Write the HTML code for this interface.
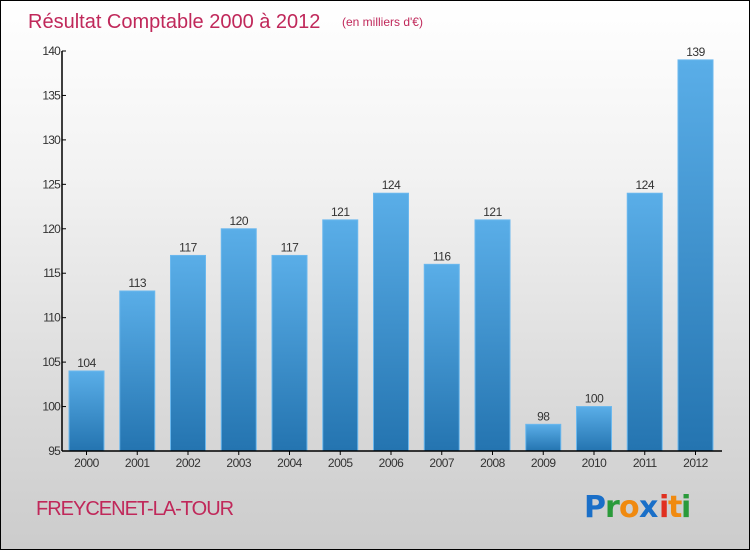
<!DOCTYPE html>
<html><head><meta charset="utf-8"><style>
body{margin:0}
#c{width:750px;height:550px;position:relative;box-sizing:border-box;border:1px solid #000;background:linear-gradient(#ffffff,#f3f3f3 30%,#d9d9d9 75%,#cccccc);font-family:"Liberation Sans",sans-serif;overflow:hidden}
</style></head><body>
<div id="c">
<svg width="750" height="550" id="svg">
<defs><linearGradient id="g" x1="0" y1="0" x2="0" y2="1"><stop offset="0" stop-color="#5aaee8"/><stop offset="1" stop-color="#2474b0"/></linearGradient></defs>
<text x="27" y="27" font-size="20" fill="#c0285a">Résultat Comptable 2000 à 2012</text>
<text x="341" y="25" font-size="12" fill="#c0285a">(en milliers d'€)</text>
<text x="35" y="514" font-size="20" fill="#c0285a" letter-spacing="-1">FREYCENET-LA-TOUR</text>
<g font-size="30" font-family="'DejaVu Sans',sans-serif" font-weight="bold">
<text x="583" y="516" fill="#1a6fc8">P</text><text x="604" y="516" fill="#2a9a3a">r</text><text x="618" y="516" fill="#f08a10">o</text><text x="638" y="516" fill="#1a6fc8">x</text><text x="658" y="516" fill="#e03020">i</text><text x="667" y="516" fill="#f08a10">t</text><text x="680" y="516" fill="#2a9a3a">i</text>
</g>
<g id="plot"></g>
</svg></div>
<script>
const categories=["2000","2001","2002","2003","2004","2005","2006","2007","2008","2009","2010","2011","2012"];
const values=[104,113,117,120,117,121,124,116,121,98,100,124,139];
const yTicks=[95,100,105,110,115,120,125,130,135,140];
const NS="http://www.w3.org/2000/svg";
const g=document.getElementById('plot');
const y0=450,y1=50,vmin=95,vmax=140,ax=61;
function y(v){return y0-(v-vmin)/(vmax-vmin)*(y0-y1);}
function x(i){return 68+i*50.75;}
function mk(t,a,p){const e=document.createElementNS(NS,t);for(const k in a)e.setAttribute(k,a[k]);(p||g).appendChild(e);return e;}
values.forEach((v,i)=>{
 const r=mk('rect',{x:x(i),y:y(v),width:35,height:y0-y(v),fill:'url(#g)',stroke:'#6bb8ee','stroke-width':1});
 
 
 const t=mk('text',{x:x(i)+17.5,y:y(v)-4,'text-anchor':'middle','font-size':12,fill:'#333','letter-spacing':'-0.5'});
 t.textContent=v;
 
 
 const c=mk('text',{x:x(i)+17.5,y:466,'text-anchor':'middle','font-size':12,fill:'#333','letter-spacing':'-0.5'});
 c.textContent=categories[i];
 
 
 mk('line',{x1:x(i)+17.5,x2:x(i)+17.5,y1:450,y2:454,stroke:'#000'});
});
yTicks.forEach(v=>{
 mk('line',{x1:ax,x2:ax+4,y1:y(v),y2:y(v),stroke:'#000'});
 const t=mk('text',{x:ax-2,y:y(v)+4,'text-anchor':'end','font-size':12,fill:'#333','letter-spacing':'-0.8'});
 t.textContent=v;
 
 
});
const ya=mk('line',{x1:ax,x2:ax,y1:50,y2:450,stroke:'#000','stroke-width':1.5});


const xa=mk('line',{x1:ax,x2:721,y1:450,y2:450,stroke:'#000','stroke-width':1.5});


</script>
</body></html>
